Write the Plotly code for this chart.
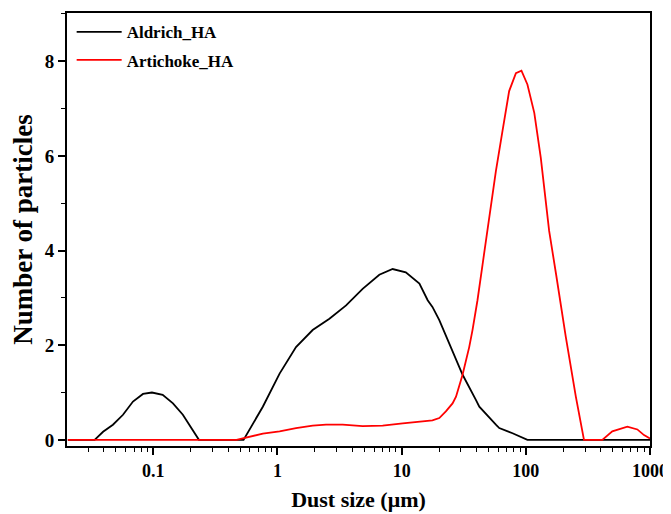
import plotly.graph_objects as go

# Aldrich_HA
aldrich_size = [0.0205, 0.0337, 0.0394, 0.0473, 0.0570, 0.0686, 0.0826, 0.0975, 0.119,
                0.144, 0.173, 0.208, 0.233, 0.533, 0.762, 1.04, 1.41, 1.92, 2.62, 3.57,
                4.85, 6.61, 8.46, 10.8, 13.9, 16.2, 17.7, 20.1, 22.7, 25.0, 30.9, 39.7,
                42.2, 57.4, 61.1, 78.2, 103, 1000]
aldrich_count = [0, 0, 0.17, 0.32, 0.53, 0.81, 0.97, 1.00, 0.95,
                 0.77, 0.53, 0.21, 0, 0, 0.70, 1.40, 1.96, 2.32, 2.56, 2.84,
                 3.19, 3.49, 3.61, 3.54, 3.30, 2.95, 2.81, 2.53, 2.20, 1.96, 1.38, 0.84,
                 0.70, 0.32, 0.25, 0.14, 0, 0]

# Artichoke_HA
artichoke_size = [0.0205, 0.468, 0.762, 1.04, 1.41, 1.92, 2.46, 3.35, 4.85, 7.03, 10.2,
                  13.0, 17.7, 20.1, 22.7, 25.7, 27.4, 30.9, 35.0, 37.2, 40.8, 44.8, 49.1,
                  57.4, 64.9, 73.4, 83.2, 92.2, 103, 117, 132, 154, 175, 210, 253, 294,
                  413, 497, 657, 791, 895, 1000]
artichoke_count = [0, 0, 0.13, 0.18, 0.25, 0.30, 0.32, 0.32, 0.29, 0.30, 0.35,
                   0.38, 0.41, 0.46, 0.60, 0.77, 0.91, 1.37, 1.96, 2.32, 2.95, 3.70, 4.42,
                   5.68, 6.53, 7.37, 7.75, 7.80, 7.51, 6.91, 5.96, 4.42, 3.51, 2.17, 0.91, 0,
                   0, 0.18, 0.28, 0.22, 0.10, 0.03]

x_tickvals = [0.1, 1, 10, 100, 1000]
x_ticktext = ["0.1", "1", "10", "100", "1000"]
x_minor = [m * 10 ** e for e in range(-2, 3) for m in range(2, 10)]
y_tickvals = [0, 2, 4, 6, 8]

FONT = "Liberation Serif"

fig = go.Figure()
fig.add_trace(go.Scatter(x=aldrich_size, y=aldrich_count, mode="lines", name="Aldrich_HA",
                         legendgroup="a", line=dict(color="black", width=1.8)))
fig.add_trace(go.Scatter(x=artichoke_size, y=artichoke_count, mode="lines", name="Artichoke_HA",
                         legendgroup="b", line=dict(color="#ff0000", width=1.8)))

# the page body adds an 8px offset, so the figure is 8px smaller than the window
fig.update_layout(
    width=663, height=506,
    margin=dict(l=59, r=21, t=5, b=68),
    paper_bgcolor="white", plot_bgcolor="white",
    font=dict(family=FONT, color="black"),
    showlegend=True,
    legend=dict(x=0.008, y=0.997, xanchor="left", yanchor="top",
                font=dict(family=FONT, size=17, color="black", weight="bold"),
                bgcolor="rgba(0,0,0,0)", tracegroupgap=3, traceorder="grouped",
                itemwidth=45),
    xaxis=dict(type="log", range=[-1.695, 3.0], automargin=False,
               tickvals=x_tickvals, ticktext=x_ticktext,
               ticks="outside", ticklen=7, tickwidth=1.5, tickcolor="black",
               minor=dict(tickvals=x_minor, ticks="outside", ticklen=4, tickwidth=1.2, tickcolor="black"),
               showline=True, linecolor="black", linewidth=1.8, mirror=True,
               showgrid=False, zeroline=False,
               tickfont=dict(family=FONT, size=18, color="black", weight="bold"),
               title=dict(text="Dust size (μm)", standoff=12,
                          font=dict(family=FONT, size=22, color="black", weight="bold"))),
    yaxis=dict(range=[-0.13, 9.02], tickvals=y_tickvals, automargin=False,
               ticks="outside", ticklen=7, tickwidth=1.5, tickcolor="black",
               minor=dict(dtick=1, ticks="outside", ticklen=4, tickwidth=1.2, tickcolor="black"),
               showline=True, linecolor="black", linewidth=1.8, mirror=True,
               showgrid=False, zeroline=False,
               tickfont=dict(family=FONT, size=19, color="black", weight="bold"),
               title=dict(text="Number of particles", standoff=8,
                          font=dict(family=FONT, size=27, color="black", weight="bold"))),
)

fig.write_html("out.html")
